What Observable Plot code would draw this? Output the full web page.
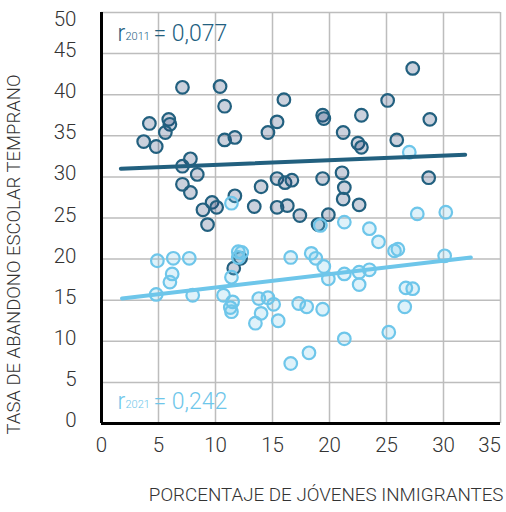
<!DOCTYPE html>
<html>
<head>
<meta charset="utf-8">
<script src="https://cdn.jsdelivr.net/npm/d3@7"></script>
<script src="https://cdn.jsdelivr.net/npm/@observablehq/plot@0.6"></script>
<style>
  html, body { margin: 0; padding: 0; background: #fff; }
  #chart { width: 506px; height: 512px; }
</style>
</head>
<body>
<div id="chart"></div>
<script>
// Porcentaje de jóvenes inmigrantes (x) vs tasa de abandono escolar temprano (y)
const x2011 = [7.1, 10.4, 10.8, 16.0, 4.2, 5.9, 6.0, 5.6, 3.7, 4.8, 10.8, 11.7, 14.6, 15.4, 27.3, 25.1, 19.4, 19.5, 22.8, 28.8,
  21.2, 22.5, 22.8, 25.9, 7.8, 7.1, 8.4, 7.1, 7.8, 9.7, 10.1, 8.9, 9.3, 11.7, 14.0, 13.4, 15.4, 16.1, 16.7, 15.4,
  16.3, 19.4, 21.1, 21.3, 21.2, 22.6, 28.7, 17.4, 19.9, 19.0, 11.6, 12.2];
const y2011 = [40.9, 41.0, 38.6, 39.4, 36.5, 37.0, 36.4, 35.4, 34.3, 33.7, 34.5, 34.8, 35.4, 36.7, 43.2, 39.3, 37.5, 37.1, 37.5, 37.0,
  35.4, 34.1, 33.6, 34.5, 32.2, 31.3, 30.3, 29.1, 28.1, 26.9, 26.3, 26.0, 24.2, 27.7, 28.8, 26.4, 29.8, 29.3, 29.6, 26.3,
  26.5, 29.8, 30.5, 28.7, 27.3, 26.6, 29.9, 25.3, 25.4, 24.2, 18.9, 20.1];

const x2021 = [4.9, 6.3, 7.7, 6.2, 6.0, 4.8, 8.0, 12.0, 12.3, 12.0, 11.4, 10.7, 11.5, 11.3, 11.4, 13.8, 14.6, 15.1, 14.0, 13.5,
  15.5, 16.6, 16.6, 11.4, 19.2, 18.4, 18.8, 19.5, 19.9, 21.3, 22.6, 23.5, 22.6, 24.3, 25.7, 26.0, 30.1, 26.7, 27.3, 26.6,
  17.3, 18.0, 19.4, 21.3, 25.2, 18.2, 27.7, 30.2, 21.3, 23.5, 27.0];
const y2021 = [19.8, 20.1, 20.1, 18.2, 17.2, 15.7, 15.6, 20.9, 20.8, 20.2, 17.8, 15.6, 14.8, 14.1, 13.6, 15.2, 15.3, 14.5, 13.4, 12.2,
  12.5, 20.2, 7.3, 26.8, 24.1, 20.7, 20.1, 19.1, 17.6, 18.2, 18.4, 18.7, 16.9, 22.1, 21.0, 21.2, 20.4, 16.5, 16.4, 14.2,
  14.6, 14.2, 13.9, 10.3, 11.1, 8.6, 25.5, 25.7, 24.5, 23.7, 33.0];

// Regression line endpoints
const fitX2011 = [1.7, 31.9];
const fitY2011 = [31.0, 32.7];
const fitX2021 = [1.8, 32.4];
const fitY2021 = [15.2, 20.2];

const xTicks = [0, 5, 10, 15, 20, 25, 30, 35];
const yTicks = [0, 5, 10, 15, 20, 25, 30, 35, 40, 45, 50];

const xTitle = "PORCENTAJE DE JÓVENES INMIGRANTES";
const yTitle = "TASA DE ABANDONO ESCOLAR TEMPRANO";
const r2011 = {sym: "r", sub: "2011", val: "= 0,077"};
const r2021 = {sym: "r", sub: "2021", val: "= 0,242"};

const dark = "#22607f";
const light = "#6ec6ea";
const textColor = "#333333";
const font = "Roboto, 'Liberation Sans', sans-serif";

const pts2011 = x2011.map((x, i) => ({x, y: y2011[i]}));
const pts2021 = x2021.map((x, i) => ({x, y: y2021[i]}));
const fit2011 = fitX2011.map((x, i) => ({x, y: fitY2011[i]}));
const fit2021 = fitX2021.map((x, i) => ({x, y: fitY2021[i]}));

const lblX = 1.4;
const tickStyle = {tickSize: 0, label: null, fontWeight: 300, fill: textColor, fontSize: 20.5};
const chart = Plot.plot({
  width: 506,
  height: 512,
  marginLeft: 101,
  marginRight: 6,
  marginTop: 12,
  marginBottom: 89,
  style: {fontFamily: font, fontSize: "20px", color: textColor, background: "#fff"},
  x: {domain: [0, 35]},
  y: {domain: [0, 50]},
  marks: [
    Plot.gridX(xTicks, {stroke: "#bdbdbd", strokeOpacity: 1, strokeWidth: 1.5}),
    Plot.gridY(yTicks, {stroke: "#bdbdbd", strokeOpacity: 1, strokeWidth: 1.5}),
    Plot.axisX(xTicks.filter(d => d < 35), {...tickStyle, tickPadding: 14}),
    Plot.axisX([35], {...tickStyle, tickPadding: 14, dx: -11}),
    Plot.axisY(yTicks.filter(d => d < 50), {...tickStyle, tickPadding: 25, dy: -3}),
    Plot.axisY([50], {...tickStyle, tickPadding: 25, dy: 7}),
    Plot.ruleX([0], {stroke: "#000", strokeWidth: 3}),
    Plot.ruleY([0], {stroke: "#000", strokeWidth: 3}),
    Plot.dot(pts2011, {x: "x", y: "y", r: 6.3, fill: "#1f3a6e", fillOpacity: 0.23, stroke: dark, strokeWidth: 2.2}),
    Plot.dot(pts2021, {x: "x", y: "y", r: 6.3, fill: light, fillOpacity: 0.22, stroke: light, strokeWidth: 2.2}),
    Plot.line(fit2011, {x: "x", y: "y", stroke: dark, strokeWidth: 4, strokeLinecap: "round"}),
    Plot.line(fit2021, {x: "x", y: "y", stroke: light, strokeWidth: 4, strokeLinecap: "round"}),
    // r annotations
    Plot.text([r2011], {x: () => lblX, y: () => 47.4, text: "sym", textAnchor: "start", fill: dark, fontSize: 23, fontWeight: 300}),
    Plot.text([r2011], {x: () => lblX, y: () => 47.4, text: "sub", textAnchor: "start", dx: 8, dy: 3, fill: dark, fontSize: 11, fontWeight: 300}),
    Plot.text([r2011], {x: () => lblX, y: () => 47.4, text: "val", textAnchor: "start", dx: 36, fill: dark, fontSize: 23, fontWeight: 300}),
    Plot.text([r2021], {x: () => lblX, y: () => 2.7, text: "sym", textAnchor: "start", fill: light, fontSize: 23, fontWeight: 300}),
    Plot.text([r2021], {x: () => lblX, y: () => 2.7, text: "sub", textAnchor: "start", dx: 8, dy: 3, fill: light, fontSize: 11, fontWeight: 300}),
    Plot.text([r2021], {x: () => lblX, y: () => 2.7, text: "val", textAnchor: "start", dx: 36, fill: light, fontSize: 23, fontWeight: 300}),
    // axis titles
    Plot.text([xTitle], {frameAnchor: "bottom-right", textAnchor: "end", dx: 3, dy: 77, fill: textColor, fontSize: 18.8, fontWeight: 300}),
    Plot.text([yTitle], {frameAnchor: "bottom-left", textAnchor: "start", rotate: -90, dx: -82, dy: 11, fill: textColor, fontSize: 18.5, fontWeight: 300})
  ]
});
document.getElementById("chart").appendChild(chart);
</script>
</body>
</html>
